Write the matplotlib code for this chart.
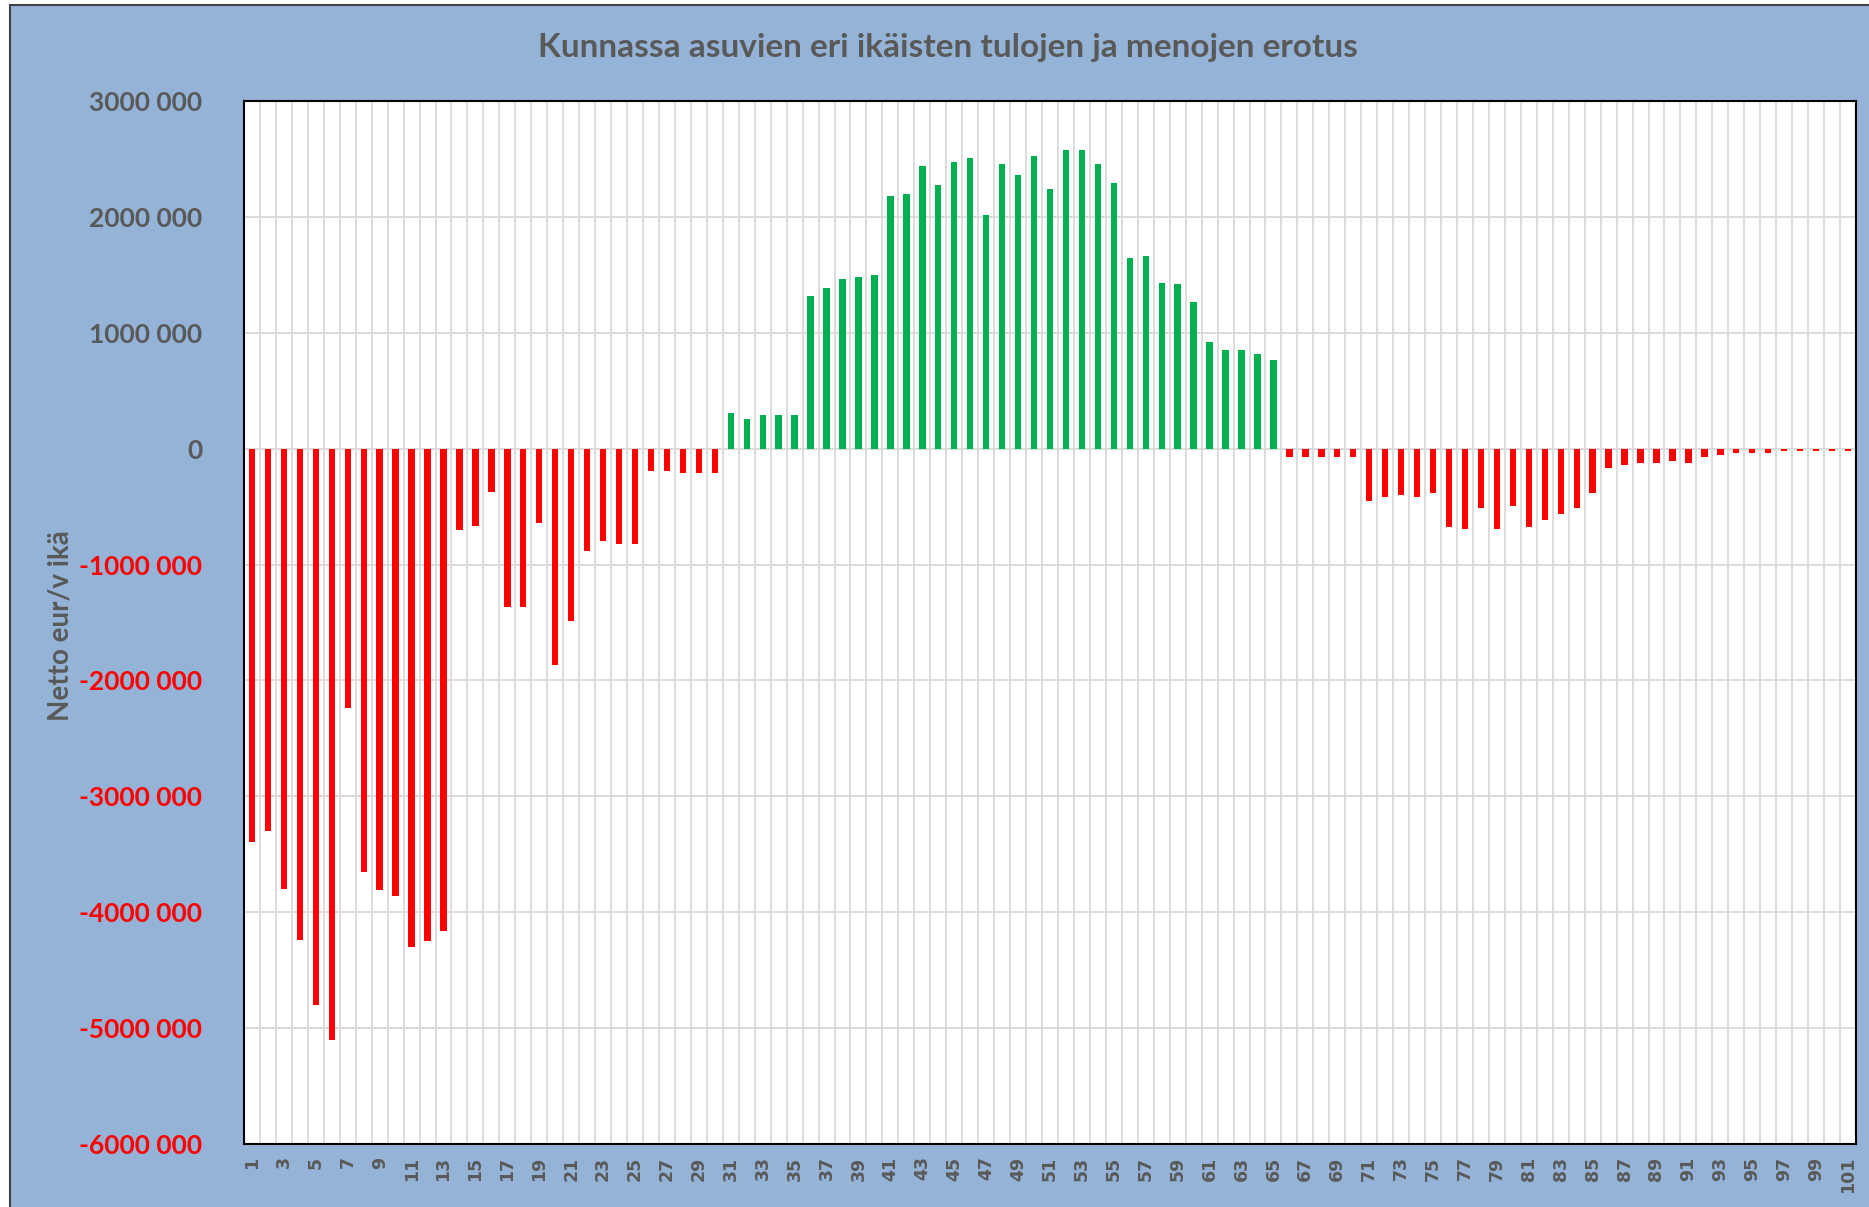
import matplotlib
matplotlib.use('Agg')
import matplotlib.pyplot as plt
from matplotlib.patches import Rectangle
from matplotlib.ticker import FuncFormatter, FixedLocator
import numpy as np

plt.rcParams['font.family'] = ['Lato', 'DejaVu Sans']

# ika 1..101
ika = np.arange(1, 102)

# netto eur/v ika (luettu kuvasta)
netto = [
    -3390000, -3300000, -3800000, -4240000, -4800000, -5100000, -2240000, -3650000, -3810000, -3860000,
    -4300000, -4250000, -4160000, -700000, -665000, -370000, -1370000, -1370000, -640000, -1870000,
    -1490000, -880000, -800000, -820000, -820000, -190000, -190000, -210000, -210000, -210000,
    304000, 258000, 287000, 287000, 287000, 1316000, 1383000, 1467000, 1481000, 1499000,
    2180000, 2197000, 2443000, 2278000, 2475000, 2510000, 2014000, 2460000, 2362000, 2528000,
    2243000, 2577000, 2577000, 2460000, 2293000, 1649000, 1664000, 1432000, 1417000, 1267000,
    919000, 852000, 852000, 817000, 768000, -69000, -69000, -69000, -69000, -69000,
    -448000, -414000, -400000, -414000, -382000, -678000, -695000, -514000, -695000, -497000,
    -678000, -612000, -563000, -514000, -382000, -170000, -138000, -121000, -121000, -103000,
    -121000, -69000, -55000, -37000, -37000, -37000, -20000, -20000, -20000, -20000,
    -20000,
]

y_ticks = [3000000, 2000000, 1000000, 0, -1000000, -2000000, -3000000, -4000000, -5000000, -6000000]

harmaa = '#595959'
punainen = '#FF0000'
vihrea = '#00B050'

fig = plt.figure(figsize=(18.69, 12.07), dpi=100)
fig.patch.set_facecolor('white')

# sininen kehys
fig.patches.append(Rectangle((10 / 1869, -0.05), 1.1, 1.05 - 5 / 1207,
                             transform=fig.transFigure, facecolor='#95B3D7',
                             edgecolor='#404040', linewidth=1.5, zorder=-1))

ax = fig.add_axes([244 / 1869, 1 - 1144 / 1207, (1856 - 244) / 1869, (1144 - 101) / 1207])
ax.set_zorder(1)
ax.set_facecolor('white')

varit = [vihrea if v > 0 else punainen for v in netto]
ax.bar(ika, netto, width=0.4, color=varit, zorder=3)

ax.set_xlim(0.5, 101.5)
ax.set_ylim(-6000000, 3000000)

# gridit
ax.set_yticks(y_ticks)
ax.yaxis.set_major_formatter(FuncFormatter(
    lambda v, p: '0' if v == 0 else f"{'-' if v < 0 else ''}{int(abs(v)) // 1000} {int(abs(v)) % 1000:03d}"))
ax.grid(axis='y', color='#D9D9D9', linewidth=1.3, zorder=1)
ax.xaxis.set_minor_locator(FixedLocator(np.arange(1.5, 101, 1)))
ax.grid(axis='x', which='minor', color='#D9D9D9', linewidth=1.3, zorder=1)

ax.set_xticks(ika[::2])
ax.set_xticklabels([str(i) for i in ika[::2]], rotation=90, fontsize=12.5,
                   fontweight='bold', color=harmaa, family=['DejaVu Sans'])
ax.tick_params(axis='x', which='both', length=0, pad=9)
ax.tick_params(axis='y', length=0, pad=30, labelsize=19)

for lbl, v in zip(ax.get_yticklabels(), y_ticks):
    lbl.set_fontweight('bold')
    lbl.set_color(punainen if v < 0 else harmaa)

for s in ax.spines.values():
    s.set_color('black')
    s.set_linewidth(1.5)
    s.set_zorder(4)

fig.text(60 / 1869, 1 - 626 / 1207, 'Netto eur/v ikä', rotation=90, ha='center', va='center',
         fontsize=20, fontweight='bold', color=harmaa)
fig.text(948 / 1869, 1 - 48 / 1207, 'Kunnassa asuvien eri ikäisten tulojen ja menojen erotus',
         ha='center', va='center', fontsize=24, fontweight='bold', color=harmaa)

fig.savefig('out.png', dpi=100)
